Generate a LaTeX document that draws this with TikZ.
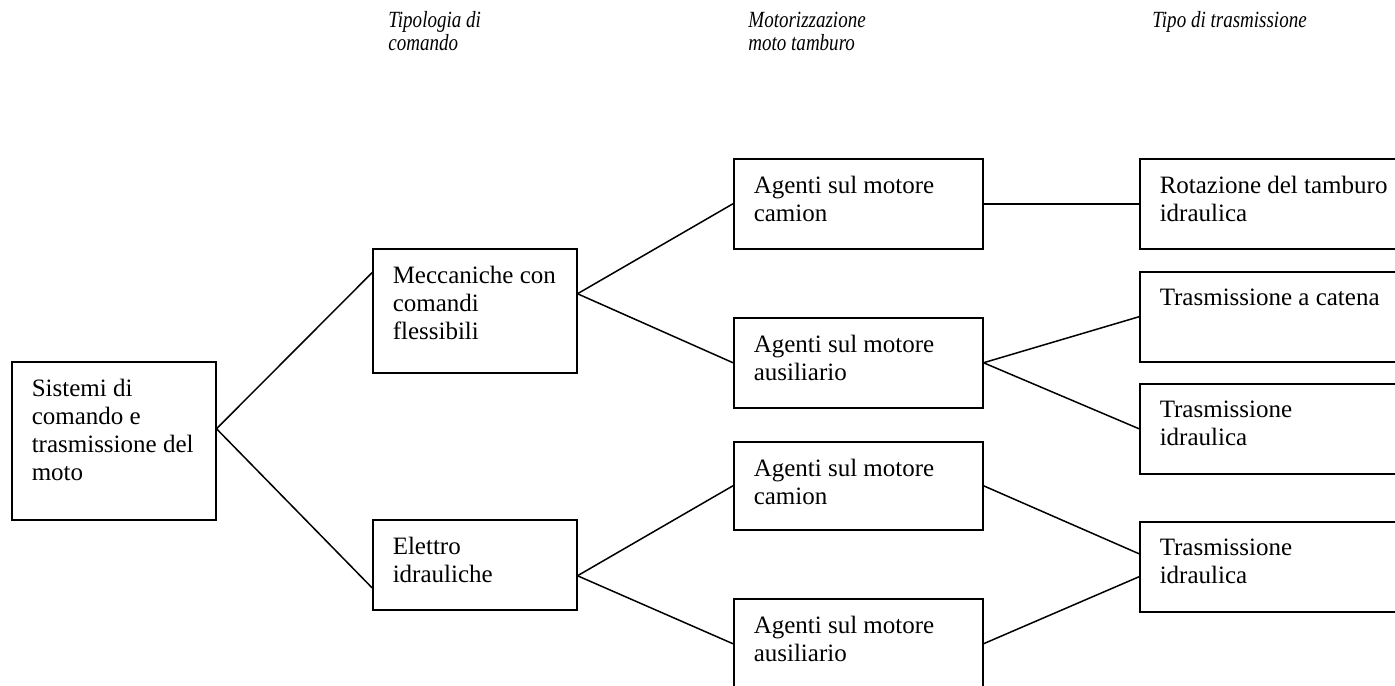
\documentclass[tikz,border=0pt]{standalone}
\usepackage{fontspec}
\setmainfont{Liberation Serif}
\newfontfamily\headfont[FakeStretch=0.82]{Liberation Serif}
\usetikzlibrary{shapes}
\tikzstyle{block} = [draw, rectangle, anchor=north west, inner xsep=10pt, 
inner ysep=8.5pt, line width=0.75pt, font=\fontsize{12.5}{14}\selectfont]
\tikzstyle{head} = [anchor=base west, inner sep=0pt, 
font=\headfont\itshape\fontsize{11.6}{11.8}\selectfont]
\tikzstyle{link} = [draw, line width=0.75pt]
\newcommand{\blocktext}[3]{\parbox[t][#1][t]{#2}{#3}}

\begin{document}
\begin{tikzpicture}[x=0.5pt, y=-0.5pt]
\clip (0,0) rectangle (1395,685);

% The column titles
\node [head] (tipologia) at (388,27) {\parbox[t]{90pt}{Tipologia di\\comando}};
\node [head] (motorizz) at (748,27) {\parbox[t]{90pt}{Motorizzazione\\moto tamburo}};
\node [head] (tipotrasm) at (1152,27) {\parbox[t]{120pt}{Tipo di trasmissione}};

% We start by placing the blocks
\node [block] (root) at (11,361) {\blocktext{62pt}{82pt}{Sistemi di\\comando e\\trasmissione del\\moto}};
\node [block] (mecc) at (372,248) {\blocktext{45pt}{82pt}{Meccaniche con\\comandi\\flessibili}};
\node [block] (elet) at (372,519) {\blocktext{28pt}{82pt}{Elettro\\idrauliche}};

\node [block] (camA) at (733,158) {\blocktext{28pt}{104.5pt}{Agenti sul motore\\camion}};
\node [block] (ausA) at (733,317) {\blocktext{28pt}{104.5pt}{Agenti sul motore\\ausiliario}};
\node [block] (camB) at (733,441) {\blocktext{27pt}{104.5pt}{Agenti sul motore\\camion}};
\node [block] (ausB) at (733,598) {\blocktext{28pt}{104.5pt}{Agenti sul motore\\ausiliario}};

% the last column runs off the right edge
\node [block] (rot) at (1139,158) {\blocktext{28pt}{120pt}{Rotazione del tamburo\\idraulica}};
\node [block] (cat) at (1139,271) {\blocktext{28pt}{120pt}{Trasmissione a catena}};
\node [block] (idrA) at (1139,383) {\blocktext{28pt}{120pt}{Trasmissione\\idraulica}};
\node [block] (idrB) at (1139,521) {\blocktext{28pt}{120pt}{Trasmissione\\idraulica}};

% Once the nodes are placed, connecting them is easy. 
\draw [link] ([yshift=6pt]root.east) -- ([yshift=19pt]mecc.west);
\draw [link] ([yshift=6pt]root.east) -- ([yshift=-11.5pt]elet.west);
\draw [link] ([yshift=8.5pt]mecc.east) -- (camA.west);
\draw [link] ([yshift=8.5pt]mecc.east) -- (ausA.west);
\draw [link] ([yshift=-5.5pt]elet.east) -- (camB.west);
\draw [link] ([yshift=-5.5pt]elet.east) -- (ausB.west);
\draw [link] (camA.east) -- (rot.west);
\draw [link] (ausA.east) -- (cat.west);
\draw [link] (ausA.east) -- (idrA.west);
\draw [link] (camB.east) -- ([yshift=6.5pt]idrB.west);
\draw [link] (ausB.east) -- ([yshift=-5pt]idrB.west);
\end{tikzpicture}
\end{document}
